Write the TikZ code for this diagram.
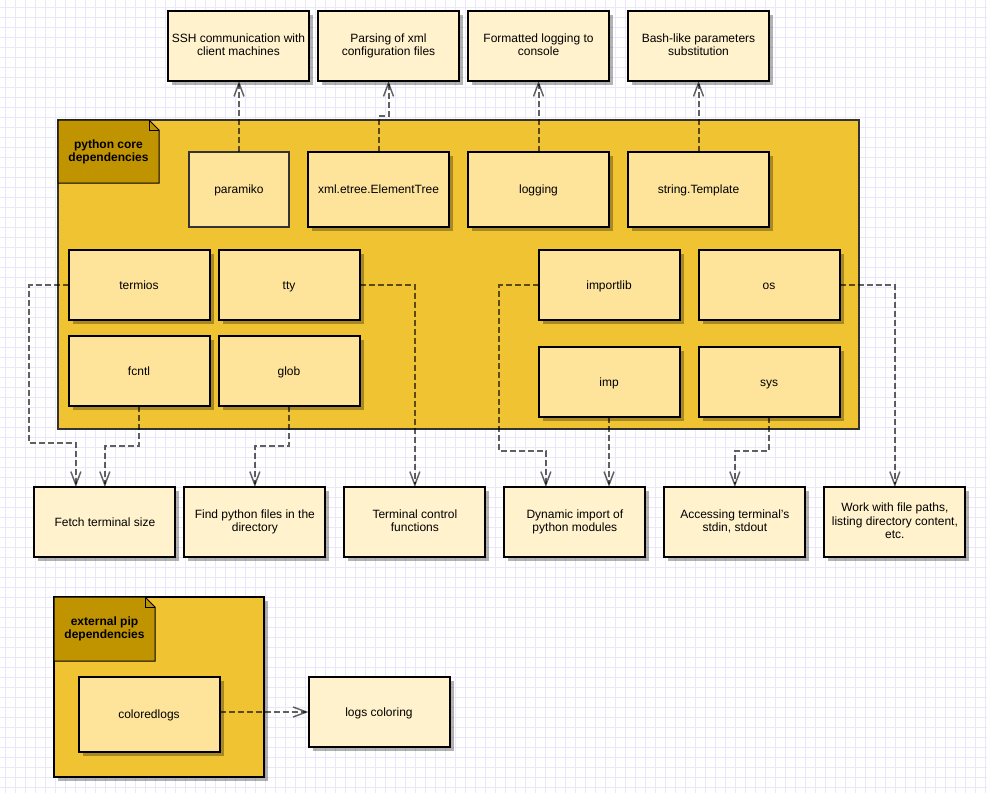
\documentclass[tikz,border=0pt]{standalone}
\usepackage{fontspec}
\setmainfont{Liberation Sans}
\usetikzlibrary{arrows.meta,shadows,calc}
\definecolor{gridc}{RGB}{234,232,248}
\definecolor{contc}{RGB}{240,195,50}
\definecolor{labc}{RGB}{192,147,0}
\definecolor{modc}{RGB}{254,228,155}
\definecolor{descc}{RGB}{255,242,204}
\definecolor{bordc}{RGB}{51,51,51}
\newcommand\topstrutx{\rule{0pt}{8.6pt}}
\newcommand\botstrutx{\rule[-1.9pt]{0pt}{1.9pt}}
\tikzset{
  gridline/.style={draw=gridc, line width=0.7pt},
  basebox/.style={rectangle, draw=black, line width=1.5pt, outer sep=0pt, inner sep=1pt, align=center,
    font=\fontsize{9}{10.3}\selectfont,
    execute at begin node={\topstrutx}, execute at end node={\botstrutx}},
  shad/.style={drop shadow={shadow xshift=3pt, shadow yshift=-3pt, opacity=0.3, fill=black}},
  descbox/.style={basebox, shad, fill=descc, minimum width=105.75pt, minimum height=52.5pt},
  modbox/.style={basebox, shad, fill=modc, minimum width=105.75pt, minimum height=52.5pt},
  modtall/.style={modbox, minimum height=56.25pt},
  container/.style={draw=bordc, line width=1.5pt, fill=contc},
  notebox/.style={draw=black, line width=0.75pt, fill=labc},
  notetext/.style={font=\fontsize{9}{10.3}\selectfont\bfseries, align=center, inner sep=0pt,
    execute at begin node={\topstrutx}, execute at end node={\botstrutx}},
  edge/.style={draw=black, opacity=0.62, line width=1.5pt, dash pattern=on 4.5pt off 2.25pt,
    -{Straight Barb[length=10pt,width=7.5pt,line width=1.1pt]}},
}
\begin{document}
\begin{tikzpicture}[x=0.75pt,y=-0.75pt]
\useasboundingbox (0,0) rectangle (987,793);
\fill[white] (0,0) rectangle (987,793);
% grid
\foreach \gx in {5,15,...,985} \draw[gridline] (\gx,0) -- (\gx,793);
\foreach \gy in {7,17,...,787} \draw[gridline] (0,\gy) -- (987,\gy);

% top description boxes
\node[descbox] (ssh) at (238.5,46) {SSH communication with\\client machines};
\node[descbox] (parsing) at (388.5,46) {Parsing of xml\\configuration files};
\node[descbox] (formatted) at (538.5,46) {Formatted logging to\\console};
\node[descbox] (bash) at (698.5,46) {Bash-like parameters\\substitution};

% python core container
\draw[container] (58,120) rectangle (859,429);
\draw[notebox] (58,120) -- (149,120) -- (159,130) -- (159,183) -- (58,183) -- cycle;
\draw[line width=0.75pt] (149,120) -- (149,130) -- (159,130);
\node[notetext] (corelabel) at (108.5,152) {python core\\dependencies};

\node[basebox, draw=bordc, fill=modc, minimum width=75pt, minimum height=56.25pt] (paramiko) at (239,189.5) {paramiko};
\node[modtall] (xml) at (378.5,189.5) {xml.etree.ElementTree};
\node[modtall] (logging) at (538.5,189.5) {logging};
\node[modtall] (string) at (698.5,189.5) {string.Template};

\node[modbox] (termios) at (139,285) {termios};
\node[modbox] (tty) at (289,285) {tty};
\node[modbox] (fcntl) at (139,371) {fcntl};
\node[modbox] (glob) at (289,371) {glob};
\node[modbox] (importlib) at (609,285) {importlib};
\node[modbox] (os) at (769,285) {os};
\node[modbox] (imp) at (609,382) {imp};
\node[modbox] (sys) at (769,382) {sys};

% bottom description boxes
\node[descbox] (fetch) at (104.85,522) {Fetch terminal size};
\node[descbox] (find) at (254.85,522) {Find python files in the\\directory};
\node[descbox] (terminal) at (414.85,522) {Terminal control\\functions};
\node[descbox] (dynamic) at (574.85,522) {Dynamic import of\\python modules};
\node[descbox] (access) at (734.85,522) {Accessing terminal's\\stdin, stdout};
\node[descbox] (work) at (894.85,522) {Work with file paths,\\listing directory content,\\etc.};

% external container
\draw[container, draw=black, shad] (54,597) rectangle (264,777);
\draw[notebox] (54,597) -- (145,597) -- (155,607) -- (155,661) -- (54,661) -- cycle;
\draw[line width=0.75pt] (145,597) -- (145,607) -- (155,607);
\node[notetext] (extlabel) at (104.5,629) {external pip\\dependencies};
\node[modtall] (coloredlogs) at (149,714.5) {coloredlogs};
\node[descbox] (logs) at (379,712) {logs coloring};

% connectors
\coordinate (termcorner) at (29,443);
\coordinate (impcorner) at (499,451);
\draw[edge] (paramiko.north) -- (paramiko.north |- ssh.south);
\draw[edge] (xml.north) -- ++(0,-36) -| (parsing.south);
\draw[edge] (logging.north) -- (formatted.south);
\draw[edge] (string.north) -- (bash.south);
\draw[edge] (termios.west) -| (termcorner) -| ([xshift=-21.75pt]fetch.north);
\draw[edge] (fcntl.south) -- ++(0,40) -| (fetch.north);
\draw[edge] (glob.south) -- ++(0,40) -| (find.north);
\draw[edge] (tty.east) -| (terminal.north);
\draw[edge] (importlib.west) -| (impcorner) -| ([xshift=-21.75pt]dynamic.north);
\draw[edge] (imp.south) -- (imp.south |- dynamic.north);
\draw[edge] (sys.south) -- ++(0,34) -| (access.north);
\draw[edge] (os.east) -| (work.north);
\draw[edge] (coloredlogs.east |- logs.west) -- (logs.west);
\end{tikzpicture}
\end{document}
